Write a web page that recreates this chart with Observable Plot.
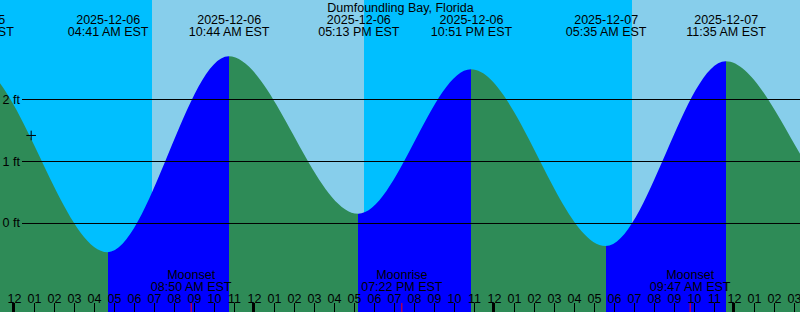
<!DOCTYPE html>
<html><head><meta charset="utf-8">
<script src="https://cdn.jsdelivr.net/npm/d3@7"></script>
<script src="https://cdn.jsdelivr.net/npm/@observablehq/plot@0.6"></script>
<style>body{margin:0;background:#fff;overflow:hidden}</style>
</head><body><div id="chart"></div>
<script>
// ---- data (local EST wall-clock times) ----
const title = "Dumfoundling Bay, Florida";
const tideTimes  = ["2025-12-05 15:40","2025-12-05 21:56","2025-12-06 04:41","2025-12-06 10:44","2025-12-06 17:13","2025-12-06 22:51","2025-12-07 05:35","2025-12-07 11:35","2025-12-07 18:05","2025-12-07 23:50"];
const tideLevels = [0.12, 2.58, -0.47, 2.69, 0.15, 2.48, -0.37, 2.61, 0.15, 2.42];
const sunTimes   = ["2025-12-06 06:54","2025-12-06 17:30","2025-12-07 06:54"]; // rise, set, rise
const moonNames  = ["Moonset","Moonrise","Moonset"];
const moonTimes  = ["2025-12-06 08:50","2025-12-06 19:22","2025-12-07 09:47"];
const markTimes  = ["2025-12-06 00:50"];
const markLevels = [1.42];
const levelTicks = [0, 1, 2];
const viewStart = "2025-12-05 23:18", viewEnd = "2025-12-07 15:18";
const levelDomain = [-1.4355, 3.5968];

// ---- helpers ----
const parse = d3.utcParse("%Y-%m-%d %H:%M");
const fmtDate = d3.utcFormat("%Y-%m-%d");
const fmtTime = d3.utcFormat("%I:%M %p EST");
const fmtHour = d3.utcFormat("%I");
const t0 = parse(viewStart), t1 = parse(viewEnd);

const DAY = "#87CEEB", NIGHT = "#00BFFF", RISING = "#0000FF", FALLING = "#2E8B57";

const tide = tideTimes.map((t, i) => ({time: parse(t), level: tideLevels[i]}));
const shownTide = tide.filter(d => d.time > d3.utcHour.offset(t0, -3) && d.time < t1);
const bounds = [t0, ...sunTimes.map(parse), t1];
const sky = d3.range(bounds.length - 1).map(i => ({start: bounds[i], end: bounds[i + 1], day: i % 2 === 1}));
const moon = moonTimes.map((t, i) => ({time: parse(t), name: moonNames[i]}));
const marker = markTimes.map((t, i) => ({time: parse(t), level: markLevels[i]}));
const hours = d3.utcHour.range(t0, t1);
const thickHours = hours.filter(h => h.getUTCHours() % 12 === 0);
const thinHours = hours.filter(h => h.getUTCHours() % 12 !== 0);

function tideGradient(index, scales, values, dimensions) {
  const W = dimensions.width;
  const defs = d3.create("svg:defs");
  const g = defs.append("linearGradient").attr("id", "tideFill")
    .attr("gradientUnits", "userSpaceOnUse")
    .attr("x1", 0).attr("x2", W).attr("y1", 0).attr("y2", 0);
  const cl = v => Math.max(0, Math.min(1, v));
  for (let i = 0; i < tide.length - 1; i++) {
    const a = cl(scales.x(tide[i].time) / W), b = cl(scales.x(tide[i + 1].time) / W);
    const c = tide[i + 1].level > tide[i].level ? RISING : FALLING;
    g.append("stop").attr("offset", a).attr("stop-color", c);
    g.append("stop").attr("offset", b).attr("stop-color", c);
  }
  return defs.node();
}

const FS = 12.5;
const chart = Plot.plot({
  width: 800, height: 312,
  margin: 0,
  style: {fontFamily: "'Liberation Sans', Arial, sans-serif", fontSize: FS + "px", background: "white", overflow: "hidden"},
  x: {type: "utc", domain: [t0, t1], range: [0, 800], axis: null},
  y: {domain: levelDomain, range: [312, 0], axis: null},
  marks: [
    tideGradient,
    Plot.rect(sky, {x1: "start", x2: "end", fill: d => d.day ? DAY : NIGHT}),
    Plot.areaY(tide, {x: "time", y1: levelDomain[0], y2: "level", curve: "monotone-x", fill: "url(#tideFill)"}),
    Plot.ruleY(levelTicks, {y: d => d, insetLeft: 22, stroke: "black", strokeWidth: 1}),
    Plot.text(levelTicks, {y: d => d, text: d => `${d} ft`, frameAnchor: "left", textAnchor: "start", dx: 2, fontSize: FS, fill: "black"}),
    Plot.dot(marker, {x: "time", y: "level", symbol: "plus", r: 3.2, stroke: "black", strokeWidth: 1}),
    Plot.text([title], {text: d => d, frameAnchor: "top", lineAnchor: "top", dy: 3, fontSize: FS, fill: "black"}),
    Plot.text(shownTide, {x: "time", text: d => fmtDate(d.time), frameAnchor: "top", lineAnchor: "top", dy: 15, fontSize: FS, fill: "black"}),
    Plot.text(shownTide, {x: "time", text: d => fmtTime(d.time), frameAnchor: "top", lineAnchor: "top", dy: 27, fontSize: FS, fill: "black"}),
    Plot.ruleX(thinHours, {x: d => d, insetTop: 303, stroke: "black", strokeWidth: 1}),
    Plot.ruleX(thickHours, {x: d => d, insetTop: 303, stroke: "black", strokeWidth: 3, dx: -1}),
    Plot.ruleX(moon, {x: "time", insetTop: 303, stroke: "red", strokeWidth: 1}),
    Plot.text(hours, {x: d => d, text: d => fmtHour(d), frameAnchor: "bottom", lineAnchor: "bottom", dy: -10, fontSize: FS, fill: "black"}),
    Plot.text(moon, {x: "time", text: "name", frameAnchor: "bottom", lineAnchor: "bottom", dy: -34, fontSize: FS, fill: "black"}),
    Plot.text(moon, {x: "time", text: d => fmtTime(d.time), frameAnchor: "bottom", lineAnchor: "bottom", dy: -22, fontSize: FS, fill: "black"})
  ]
});
document.getElementById("chart").appendChild(chart);
</script>
</body></html>
